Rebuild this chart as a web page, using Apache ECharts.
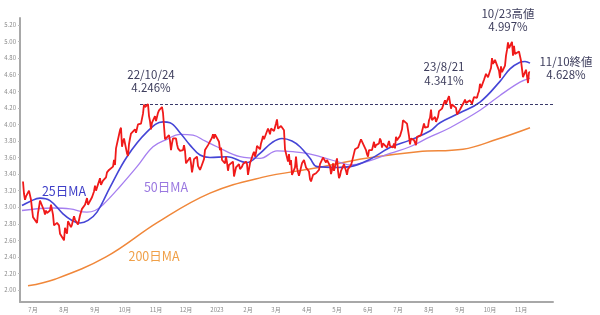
<!DOCTYPE html>
<html><head><meta charset="utf-8">
<script src="https://cdn.jsdelivr.net/npm/echarts@6/dist/echarts.min.js"></script>
<style>html,body{margin:0;padding:0;background:#fff}#c{width:600px;height:315px}</style>
</head><body><div id="c"></div>
<script>
// ---- Data ----
const yieldMonths = ['2022-06','2022-07','2022-08','2022-09','2022-10','2022-11','2022-12',
  '2023-01','2023-02','2023-03','2023-04','2023-05','2023-06','2023-07','2023-08','2023-09','2023-10','2023-11'];
const yieldDays = [
  [21,22,23,24,27,28,29,30],
  [1,5,6,7,8,11,12,13,14,15,18,19,20,21,22,25,26,27,28,29],
  [1,2,3,4,5,8,9,10,11,12,15,16,17,18,19,22,23,24,25,26,29,30,31],
  [1,2,6,7,8,9,12,13,14,15,16,19,20,21,22,23,26,27,28,29,30],
  [3,4,5,6,7,11,12,13,14,17,18,19,20,21,24,25,26,27,28,31],
  [1,2,3,4,7,8,9,10,14,15,16,17,18,21,22,23,25,28,29,30],
  [1,2,5,6,7,8,9,12,13,14,15,16,19,20,21,22,23,27,28,29,30],
  [3,4,5,6,9,10,11,12,13,17,18,19,20,23,24,25,26,27,30,31],
  [1,2,3,6,7,8,9,10,13,14,15,16,17,21,22,23,24,27,28],
  [1,2,3,6,7,8,9,10,13,14,15,16,17,20,21,22,23,24,27,28,29,30,31],
  [3,4,5,6,7,10,11,12,13,14,17,18,19,20,21,24,25,26,27,28],
  [1,2,3,4,5,8,9,10,11,12,15,16,17,18,19,22,23,24,25,26,30,31],
  [1,2,5,6,7,8,9,12,13,14,15,16,20,21,22,23,26,27,28,29,30],
  [3,5,6,7,10,11,12,13,14,17,18,19,20,21,24,25,26,27,28,31],
  [1,2,3,4,7,8,9,10,11,14,15,16,17,18,21,22,23,24,25,28,29,30,31],
  [1,5,6,7,8,11,12,13,14,15,18,19,20,21,22,25,26,27,28,29],
  [2,3,4,5,6,10,11,12,13,16,17,18,19,20,23,24,25,26,27,30,31],
  [1,2,3,6,7,8,9,10]
];
const yieldValues = [
  [3.31,3.16,3.09,3.13,3.20,3.20,3.09,2.98],
  [2.88,2.81,2.93,3.00,3.08,2.99,2.96,2.91,2.96,2.93,2.96,3.03,3.03,2.91,2.78,2.81,2.81,2.78,2.68,2.67],
  [2.60,2.75,2.73,2.68,2.83,2.76,2.79,2.78,2.89,2.85,2.79,2.81,2.90,2.88,2.98,3.03,3.05,3.11,3.03,3.04,3.12,3.11,3.19],
  [3.26,3.20,3.35,3.27,3.29,3.32,3.36,3.42,3.41,3.45,3.45,3.49,3.57,3.51,3.71,3.69,3.93,3.96,3.73,3.79,3.83],
  [3.65,3.62,3.76,3.83,3.89,3.94,3.90,3.95,4.00,4.01,4.00,4.13,4.24,4.21,4.246,4.10,4.04,3.94,4.02,4.10],
  [4.04,4.06,4.14,4.17,4.21,4.14,4.12,3.82,3.87,3.80,3.69,3.77,3.83,3.83,3.76,3.71,3.68,3.69,3.75,3.68],
  [3.53,3.51,3.60,3.53,3.42,3.49,3.58,3.61,3.50,3.48,3.45,3.48,3.58,3.69,3.67,3.68,3.75,3.84,3.88,3.83,3.88],
  [3.79,3.69,3.72,3.57,3.53,3.61,3.54,3.44,3.51,3.55,3.37,3.39,3.48,3.52,3.46,3.45,3.49,3.52,3.55,3.52],
  [3.39,3.40,3.53,3.64,3.67,3.61,3.66,3.74,3.70,3.77,3.81,3.86,3.82,3.95,3.92,3.88,3.95,3.92,3.92],
  [4.01,4.06,3.95,3.98,3.97,3.99,3.93,3.70,3.55,3.64,3.51,3.57,3.39,3.48,3.61,3.48,3.42,3.38,3.53,3.55,3.57,3.55,3.48],
  [3.43,3.34,3.31,3.29,3.39,3.41,3.43,3.40,3.45,3.52,3.60,3.59,3.60,3.54,3.57,3.50,3.40,3.45,3.53,3.44],
  [3.59,3.44,3.35,3.38,3.44,3.52,3.52,3.44,3.39,3.46,3.51,3.55,3.57,3.65,3.70,3.72,3.70,3.74,3.82,3.80,3.69,3.64],
  [3.61,3.69,3.69,3.70,3.79,3.72,3.75,3.77,3.83,3.80,3.72,3.77,3.72,3.73,3.80,3.74,3.72,3.77,3.71,3.85,3.81],
  [3.86,3.94,4.05,4.06,4.01,3.99,3.86,3.76,3.83,3.81,3.79,3.75,3.85,3.84,3.87,3.89,3.86,4.01,3.96,3.97],
  [4.05,4.08,4.18,4.05,4.09,4.03,4.01,4.09,4.16,4.19,4.21,4.26,4.29,4.25,4.341,4.33,4.19,4.24,4.24,4.20,4.12,4.12,4.11],
  [4.18,4.27,4.30,4.26,4.26,4.29,4.27,4.25,4.29,4.33,4.32,4.37,4.40,4.49,4.44,4.54,4.56,4.61,4.59,4.57],
  [4.68,4.80,4.73,4.72,4.78,4.65,4.56,4.70,4.63,4.71,4.83,4.90,4.99,4.92,4.997,4.83,4.95,4.85,4.84,4.88,4.88],
  [4.77,4.67,4.57,4.66,4.58,4.50,4.63,4.628]
];

const ma25Dates = ['2022-06-20','2022-06-28','2022-07-08','2022-07-18','2022-07-31','2022-08-09','2022-08-17','2022-08-25',
  '2022-09-03','2022-09-16','2022-10-03','2022-10-23','2022-11-08','2022-11-15','2022-11-25','2022-12-05','2022-12-15',
  '2022-12-25','2023-01-11','2023-01-31','2023-02-13','2023-02-25','2023-03-07','2023-03-17','2023-03-25','2023-04-04',
  '2023-04-11','2023-05-01','2023-05-14','2023-06-03','2023-06-23','2023-07-13','2023-08-02','2023-08-12','2023-09-01',
  '2023-09-21','2023-10-11','2023-10-21','2023-10-31','2023-11-05','2023-11-10'];
const ma25Values = [3.02,3.07,3.11,3.08,2.92,2.84,2.81,2.84,
  2.94,3.24,3.61,3.91,4.03,4.02,3.90,3.75,3.63,
  3.60,3.61,3.54,3.65,3.78,3.83,3.80,3.73,3.59,
  3.49,3.48,3.49,3.58,3.72,3.81,3.92,4.02,4.14,
  4.27,4.52,4.67,4.75,4.76,4.74];

const ma50Dates = ['2022-06-20','2022-07-21','2022-08-07','2022-08-24','2022-09-01','2022-09-09','2022-09-26','2022-10-13',
  '2022-10-29','2022-11-12','2022-11-25','2022-12-08','2022-12-20','2023-01-01','2023-01-24','2023-02-13','2023-03-02',
  '2023-03-18','2023-04-01','2023-04-14','2023-05-07','2023-05-14','2023-05-31','2023-06-23','2023-07-13','2023-08-02',
  '2023-08-22','2023-09-21','2023-10-11','2023-10-31','2023-11-10'];
const ma50Values = [2.96,2.99,2.98,2.94,2.96,3.03,3.25,3.49,
  3.73,3.82,3.88,3.87,3.80,3.73,3.61,3.59,3.68,
  3.67,3.65,3.61,3.53,3.51,3.55,3.65,3.73,3.85,
  3.96,4.17,4.35,4.51,4.56];

const ma200Dates = ['2022-06-26','2022-07-23','2022-09-12','2022-11-03','2022-12-25','2023-02-15','2023-04-08',
  '2023-05-30','2023-07-21','2023-09-04','2023-10-08','2023-11-10'];
const ma200Values = [2.05,2.13,2.40,2.82,3.17,3.36,3.47,3.59,3.67,3.70,3.82,3.96];

const monthStarts = ['2022-07-01','2022-08-01','2022-09-01','2022-10-01','2022-11-01','2022-12-01','2023-01-01',
  '2023-02-01','2023-03-01','2023-04-01','2023-05-01','2023-06-01','2023-07-01','2023-08-01','2023-09-01','2023-10-01','2023-11-01'];
const monthLabels = ['7月','8月','9月','10月','11月','12月','2023','2月','3月','4月','5月','6月','7月','8月','9月','10月','11月'];
const yTicks = [2.00,2.20,2.40,2.60,2.80,3.00,3.20,3.40,3.60,3.80,4.00,4.20,4.40,4.60,4.80,5.00,5.20];

const refLevel = 4.246;
const refStart = '2022-10-16';
const axisStart = '2022-06-18';
const axisEnd = '2023-12-03';

// ---- Build ----
function ts(s){const p=s.split('-');return new Date(+p[0],+p[1]-1,+(p[2]||1)).getTime();}
const yieldData = [];
yieldMonths.forEach((m,i)=>{yieldDays[i].forEach((d,j)=>{
  yieldData.push([ts(m+'-'+String(d).padStart(2,'0')), yieldValues[i][j]]);});});
const pairs=(ds,vs)=>ds.map((d,i)=>[ts(d),vs[i]]);
const monthTs = monthStarts.map(ts);

const FONT = '"Noto Sans CJK JP","Noto Sans",sans-serif';
const chart = echarts.init(document.getElementById('c'), null, {renderer:'canvas'});
chart.setOption({
  animation:false,
  backgroundColor:'#ffffff',
  grid:{left:20,right:47,top:18,bottom:13},
  xAxis:{type:'value',min:ts(axisStart),max:ts(axisEnd),scale:true,
    axisLine:{lineStyle:{color:'#a8a8a8',width:2}},
    axisTick:{show:false},splitLine:{show:false},
    axisLabel:{customValues:monthTs,fontSize:6,color:'#8a8a8a',margin:5,fontFamily:FONT,hideOverlap:false,
      formatter:function(v){let bi=0,bd=Infinity;monthTs.forEach((t,i)=>{const d=Math.abs(t-v);if(d<bd){bd=d;bi=i;}});return monthLabels[bi];}}},
  yAxis:{type:'value',min:1.855,max:5.285,
    axisLine:{show:true,lineStyle:{color:'#a8a8a8',width:2}},
    axisTick:{show:true,length:2,customValues:yTicks,lineStyle:{color:'#bbb'}},
    splitLine:{show:false},
    axisLabel:{customValues:yTicks,fontSize:6,color:'#8a8a8a',margin:4,fontFamily:FONT,formatter:v=>v.toFixed(2)}},
  series:[
    {name:'200日MA',type:'line',data:pairs(ma200Dates,ma200Values),smooth:0.4,showSymbol:false,
      lineStyle:{color:'#f0873a',width:1.5},z:2},
    {name:'50日MA',type:'line',data:pairs(ma50Dates,ma50Values),smooth:0.4,showSymbol:false,
      lineStyle:{color:'#a67ff0',width:1.3},z:3},
    {name:'25日MA',type:'line',data:pairs(ma25Dates,ma25Values),smooth:0.4,showSymbol:false,
      lineStyle:{color:'#4545d6',width:1.6},z:4},
    {name:'10年債利回り',type:'line',data:yieldData,showSymbol:false,
      lineStyle:{color:'#f01a1a',width:1.8},z:5,
      markLine:{silent:true,symbol:['none','none'],label:{show:false},
        lineStyle:{type:[3,2],color:'#3a3a6a',width:1},
        data:[[{coord:[ts(refStart),refLevel]},{coord:[ts(axisEnd),refLevel]}]]}}
  ],
  graphic:[
    {type:'text',x:151,y:68,style:{text:'22/10/24\n4.246%',textAlign:'center',textVerticalAlign:'top',fontSize:11.5,lineHeight:13,fontFamily:FONT,fill:'#3d3d5c'}},
    {type:'text',x:444,y:60,style:{text:'23/8/21\n4.341%',textAlign:'center',textVerticalAlign:'top',fontSize:11.5,lineHeight:14,fontFamily:FONT,fill:'#3d3d5c'}},
    {type:'text',x:508,y:7,style:{text:'10/23高値\n4.997%',textAlign:'center',textVerticalAlign:'top',fontSize:11.5,lineHeight:13,fontFamily:FONT,fill:'#3d3d5c'}},
    {type:'text',x:566,y:55,style:{text:'11/10終値\n4.628%',textAlign:'center',textVerticalAlign:'top',fontSize:11.5,lineHeight:13,fontFamily:FONT,fill:'#3d3d5c'}},
    {type:'text',x:64,y:191,style:{text:'25日MA',textAlign:'center',textVerticalAlign:'middle',fontSize:12.5,fontFamily:FONT,fill:'#3f3fc8'}},
    {type:'text',x:166,y:187,style:{text:'50日MA',textAlign:'center',textVerticalAlign:'middle',fontSize:12.5,fontFamily:FONT,fill:'#9a78e0'}},
    {type:'text',x:154,y:256,style:{text:'200日MA',textAlign:'center',textVerticalAlign:'middle',fontSize:12.5,fontFamily:FONT,fill:'#f0a048'}}
  ]
});
</script></body></html>
